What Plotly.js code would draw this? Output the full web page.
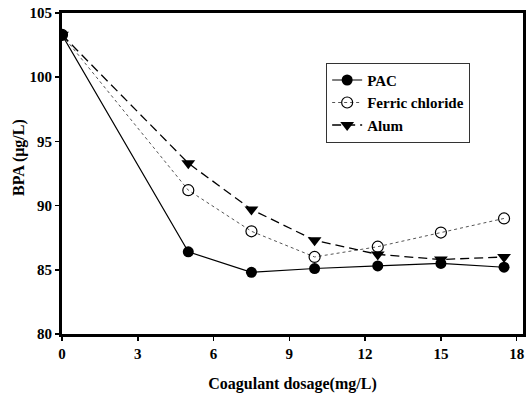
<!DOCTYPE html>
<html><head><meta charset="utf-8">
<script src="https://cdn.plot.ly/plotly-3.0.1.min.js"></script>
<style>body{margin:0;background:#fff}#g{width:532px;height:393px}</style>
</head><body><div id="g"></div>
<script>
const dosage = [0, 5, 7.5, 10, 12.5, 15, 17.5];
const pac = [103.3, 86.4, 84.8, 85.1, 85.3, 85.5, 85.2];
const ferric = [103.3, 91.2, 88.0, 86.0, 86.8, 87.9, 89.0];
const alum = [103.3, 93.3, 89.7, 87.3, 86.2, 85.8, 86.0];
const xTicks = [0, 3, 6, 9, 12, 15, 18];
const yTicks = [80, 85, 90, 95, 100, 105];

const F = 'Liberation Serif, Times New Roman, serif';
const traces = [
  {x: dosage, y: pac, name: 'PAC', mode: 'lines+markers',
   line: {color: '#000', width: 1.2, dash: 'solid'},
   marker: {symbol: 'circle', size: 11, color: '#000'}},
  {x: dosage, y: ferric, name: 'Ferric chloride', mode: 'lines+markers',
   line: {color: '#555', width: 1, dash: 'dot'},
   marker: {symbol: 'circle-open', size: 11, color: '#000', line: {width: 1.2, color: '#000'}}},
  {x: dosage, y: alum, name: 'Alum', mode: 'lines+markers',
   line: {color: '#000', width: 1.3, dash: '9px,5px'},
   marker: {symbol: 'triangle-down', size: 12, color: '#000'}}
];
const layout = {
  width: 532, height: 393,
  margin: {l: 62, r: 9, t: 13, b: 59},
  paper_bgcolor: '#fff', plot_bgcolor: '#fff',
  font: {family: F, size: 15, color: '#000', weight: 'bold'},
  showlegend: true,
  legend: {x: 0.573, y: 0.845, xanchor: 'left', yanchor: 'top',
    bordercolor: '#333', borderwidth: 1, bgcolor: '#fff',
    font: {family: F, size: 15, color: '#000', weight: 'bold'},
    tracegroupgap: 0, itemwidth: 30},
  xaxis: {range: [0, 18.25], tickvals: xTicks, ticktext: xTicks.map(String),
    ticks: 'outside', ticklen: 4, tickwidth: 1.5, tickcolor: '#000',
    showline: true, linewidth: 3, linecolor: '#000', mirror: true,
    showgrid: false, zeroline: false,
    tickfont: {family: F, size: 15, color: '#000', weight: 'bold'},
    title: {text: 'Coagulant dosage(mg/L)', standoff: 18,
      font: {family: F, size: 16, color: '#000', weight: 'bold'}}},
  yaxis: {range: [80, 105], tickvals: yTicks, ticktext: yTicks.map(String),
    ticks: 'outside', ticklen: 4, tickwidth: 1.5, tickcolor: '#000',
    showline: true, linewidth: 3, linecolor: '#000', mirror: true,
    showgrid: false, zeroline: false,
    tickfont: {family: F, size: 15, color: '#000', weight: 'bold'}},
  annotations: [{text: 'BPA (μg/L)', textangle: -90, xref: 'paper', yref: 'paper',
    x: -0.092, y: 0.55, xanchor: 'center', yanchor: 'middle', showarrow: false,
    font: {family: F, size: 16, color: '#000', weight: 'bold'}}]
};
Plotly.newPlot('g', traces, layout, {staticPlot: true, displayModeBar: false});
</script></body></html>
